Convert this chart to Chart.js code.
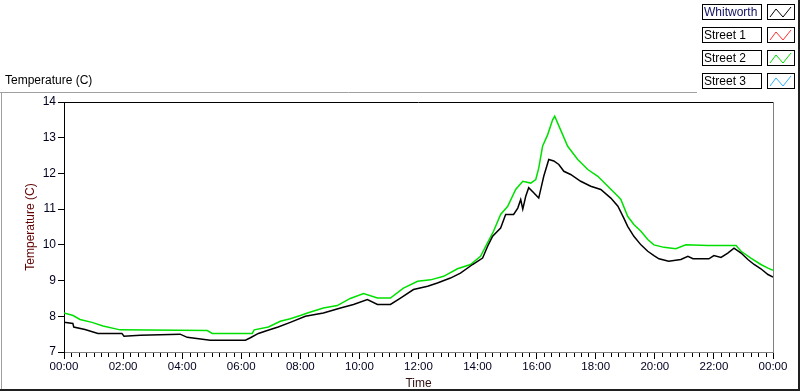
<!DOCTYPE html>
<html>
<head>
<meta charset="utf-8">
<script src="https://cdn.jsdelivr.net/npm/chart.js@4.4.1/dist/chart.umd.min.js"></script>
<style>
  html, body { margin: 0; padding: 0; background: #fff; }
  #wrap { position: relative; width: 800px; height: 392px; }
</style>
</head>
<body>
<div id="wrap"><canvas id="c" width="800" height="392"></canvas></div>
<script>
// Series names and colours (legend order)
const seriesNames = ['Whitworth', 'Street 1', 'Street 2', 'Street 3'];
const seriesColors = ['#000000', '#ff3030', '#00e000', '#30b0ff'];

// Whitworth: time in hours, temperature in C
const whitHours = [0, 0.30, 0.33, 0.71, 1.15, 1.96, 2.03, 2.58, 3.93, 4.17, 4.95, 6.14, 6.31, 6.58, 6.88, 7.25, 7.66,
  8.17, 8.78, 9.36, 9.80, 10.27, 10.61, 11.05, 11.39, 11.83, 12.31, 12.64, 13.08, 13.42, 13.83, 14.17, 14.34, 14.51,
  14.78, 14.95, 15.22, 15.36, 15.46, 15.53, 15.63, 15.73, 15.90, 16.07, 16.24, 16.41, 16.58, 16.75, 16.92, 17.15,
  17.49, 17.83, 18.17, 18.51, 18.75, 18.95, 19.08, 19.29, 19.53, 19.76, 19.97, 20.14, 20.47, 20.88, 21.12, 21.29,
  21.83, 22.0, 22.24, 22.47, 22.68, 22.92, 23.15, 23.36, 23.59, 23.83, 24.0];
const whitTemps = [7.83, 7.80, 7.70, 7.63, 7.52, 7.52, 7.44, 7.47, 7.50, 7.41, 7.33, 7.33, 7.40, 7.52, 7.60, 7.70, 7.83,
  8.00, 8.09, 8.23, 8.33, 8.47, 8.33, 8.33, 8.51, 8.75, 8.84, 8.93, 9.07, 9.21, 9.45, 9.63, 9.96, 10.24,
  10.47, 10.85, 10.85, 11.03, 11.27, 11.00, 11.36, 11.60, 11.46, 11.31, 11.92, 12.39, 12.35, 12.25, 12.06, 11.97,
  11.78, 11.64, 11.55, 11.31, 11.08, 10.75, 10.52, 10.24, 10.00, 9.82, 9.70, 9.61, 9.54, 9.59, 9.68, 9.61,
  9.61, 9.70, 9.65, 9.77, 9.91, 9.77, 9.59, 9.45, 9.33, 9.17, 9.10];

// Street 2
const st2Hours = [0, 0.31, 0.54, 0.95, 1.32, 1.90, 4.85, 5.02, 6.37, 6.44, 6.92, 7.32, 7.66, 8.0, 8.24, 8.78, 9.25,
  9.69, 10.14, 10.61, 11.05, 11.49, 11.97, 12.41, 12.85, 13.32, 13.76, 14.10, 14.34, 14.54, 14.78, 15.02, 15.29,
  15.53, 15.80, 15.97, 16.07, 16.20, 16.37, 16.54, 16.61, 16.81, 17.05, 17.39, 17.73, 18.07, 18.41, 18.75, 18.85,
  19.08, 19.29, 19.53, 19.76, 19.97, 20.31, 20.71, 21.05, 21.80, 22.75, 22.92, 23.25, 23.59, 23.83, 24.0];
const st2Temps = [8.09, 8.02, 7.91, 7.83, 7.73, 7.62, 7.60, 7.52, 7.52, 7.62, 7.70, 7.86, 7.93, 8.02, 8.09, 8.23, 8.30,
  8.50, 8.64, 8.51, 8.51, 8.79, 8.98, 9.02, 9.12, 9.33, 9.45, 9.68, 10.06, 10.38, 10.85, 11.08, 11.55,
  11.78, 11.73, 11.83, 12.15, 12.76, 13.08, 13.50, 13.60, 13.22, 12.76, 12.39, 12.11, 11.92, 11.64, 11.36, 11.27,
  10.80, 10.57, 10.38, 10.15, 10.00, 9.93, 9.89, 10.00, 9.98, 9.98, 9.82, 9.63, 9.45, 9.35, 9.29];

// Street 1 and Street 3 have no visible trace
const st1Hours = [];
const st1Temps = [];
const st3Hours = [];
const st3Temps = [];

const yTicks = [7, 8, 9, 10, 11, 12, 13, 14];

const pairs = (xs, ys) => xs.map((x, i) => ({ x, y: ys[i] }));
const hhmm = h => String(Math.round(h) % 24).padStart(2, '0') + ':00';

const FONT = '"Liberation Sans", Arial, sans-serif';

const framePlugin = {
  id: 'frame',
  afterDraw(chart) {
    const { ctx, chartArea: a, scales } = chart;
    ctx.save();
    // outer panel frame
    ctx.strokeStyle = '#a0a0a0';
    ctx.lineWidth = 1;
    ctx.beginPath();
    ctx.moveTo(0, 92.5); ctx.lineTo(697, 92.5);
    ctx.moveTo(1.5, 92); ctx.lineTo(1.5, 390);
    ctx.stroke();
    ctx.strokeStyle = '#202020';
    ctx.lineWidth = 2;
    ctx.beginPath();
    ctx.moveTo(0, 390); ctx.lineTo(800, 390);
    ctx.moveTo(799, 0); ctx.lineTo(799, 391);
    ctx.stroke();

    // plot border: top black, right grey
    ctx.lineWidth = 1;
    ctx.strokeStyle = '#000';
    ctx.beginPath();
    ctx.moveTo(a.left, a.top + 0.5); ctx.lineTo(a.right, a.top + 0.5);
    ctx.stroke();
    ctx.strokeStyle = '#808080';
    ctx.beginPath();
    ctx.moveTo(a.right + 0.5, a.top); ctx.lineTo(a.right + 0.5, a.bottom);
    ctx.stroke();

    // minor ticks on the time axis, every 15 minutes
    const xs = scales.x;
    ctx.strokeStyle = '#000';
    ctx.beginPath();
    for (let q = 0; q <= 96; q++) {
      if (q % 8 === 0) continue;
      const px = Math.round(xs.getPixelForValue(q / 4)) + 0.5;
      ctx.moveTo(px, a.bottom + 1); ctx.lineTo(px, a.bottom + 5);
    }
    ctx.stroke();

    // titles
    ctx.fillStyle = '#000';
    ctx.font = '12px ' + FONT;
    ctx.textBaseline = 'middle';
    ctx.textAlign = 'left';
    ctx.fillText('Temperature (C)', 5, 81);
    ctx.fillStyle = '#301010';
    ctx.textAlign = 'center';
    ctx.fillText('Time', (a.left + a.right) / 2, 384);
    ctx.save();
    ctx.translate(31, (a.top + a.bottom) / 2);
    ctx.rotate(-Math.PI / 2);
    ctx.fillStyle = '#600000';
    ctx.fillText('Temperature (C)', 0, 0);
    ctx.restore();

    // legend
    chart.data.datasets.forEach((ds, i) => {
      const top = 4 + i * 23;
      ctx.fillStyle = '#fff';
      ctx.fillRect(702, top, 60, 16);
      ctx.fillRect(767, top, 28, 16);
      ctx.strokeStyle = '#000';
      ctx.lineWidth = 1;
      ctx.strokeRect(702.5, top + 0.5, 59, 15);
      ctx.strokeRect(767.5, top + 0.5, 27, 15);
      ctx.fillStyle = i === 0 ? '#101060' : '#000';
      ctx.textAlign = 'left';
      ctx.fillText(ds.label, 704, top + 8.5);
      ctx.strokeStyle = ds.borderColor;
      ctx.beginPath();
      ctx.moveTo(770, top + 13); ctx.lineTo(776, top + 5);
      ctx.lineTo(783, top + 13); ctx.lineTo(791, top + 3);
      ctx.stroke();
    });
    ctx.restore();
  }
};

const seriesData = [pairs(whitHours, whitTemps), pairs(st1Hours, st1Temps), pairs(st2Hours, st2Temps), pairs(st3Hours, st3Temps)];
// Whitworth drawn on top of Street 2 as in the reference
const datasets = seriesNames.map((name, i) => ({
  label: name,
  data: seriesData[i],
  borderColor: seriesColors[i],
  backgroundColor: seriesColors[i],
  borderWidth: 1.5,
  pointRadius: 0,
  tension: 0,
  order: i === 0 ? 0 : 1
}));

new Chart(document.getElementById('c'), {
  type: 'line',
  data: { datasets },
  options: {
    responsive: false,
    animation: false,
    layout: { padding: { top: 102, right: 27, left: 0, bottom: 0 } },
    plugins: { legend: { display: false }, tooltip: { enabled: false } },
    scales: {
      x: {
        type: 'linear',
        min: 0, max: 24,
        afterFit: s => { s.height = 40; },
        border: { color: '#808080', width: 1 },
        grid: { drawOnChartArea: false, tickLength: 7, tickColor: '#000' },
        ticks: { stepSize: 2, padding: 1, maxRotation: 0, autoSkip: false, color: '#000020',
          font: { family: FONT, size: 11.5 }, callback: v => hhmm(v) }
      },
      y: {
        min: 7, max: 14,
        afterFit: s => { s.width = 64; },
        afterBuildTicks: s => { s.ticks = yTicks.map(v => ({ value: v })); },
        border: { color: '#000', width: 1 },
        grid: { drawOnChartArea: false, tickLength: 6, tickColor: '#000' },
        ticks: { padding: 2, color: '#000020', font: { family: FONT, size: 12 } }
      }
    }
  },
  plugins: [framePlugin]
});
</script>
</body>
</html>
